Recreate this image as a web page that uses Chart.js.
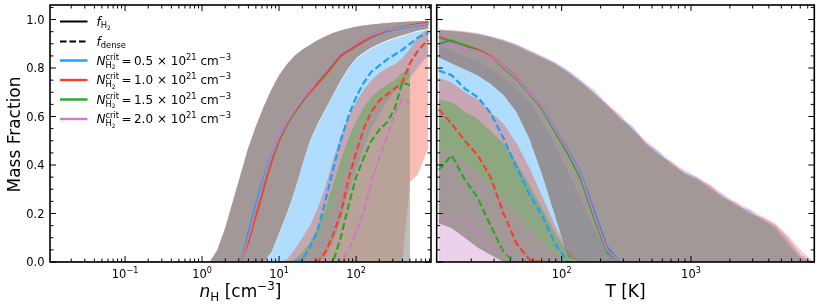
<!DOCTYPE html>
<html><head><meta charset="utf-8">
<script src="https://cdn.jsdelivr.net/npm/chart.js@4/dist/chart.umd.min.js"></script>
<style>
html,body{margin:0;padding:0;background:#fff;width:822px;height:308px;overflow:hidden}
canvas{position:absolute;top:0}
#c1{left:0}
#c2{left:434px}
</style></head><body>
<canvas id="c1" width="434" height="308"></canvas>
<canvas id="c2" width="388" height="308"></canvas>
<script>
// ---------------- DATA: left panel (x = n_H [cm^-3]) ----------------
const nH = [0.0107, 1.0, 1.26, 1.58, 2.0, 2.51, 3.16, 3.98, 5.01, 6.31, 7.94, 10.0, 12.6, 15.8, 20.0, 25.1, 31.6, 39.8, 50.1, 63.1, 79.4, 100, 126, 158, 200, 251, 316, 398, 501, 631, 794, 870];
const nH_h2Hi = [0,0,0,0.05,0.14,0.25,0.36,0.47,0.56,0.64,0.71,0.77,0.815,0.85,0.875,0.895,0.915,0.93,0.945,0.955,0.963,0.97,0.975,0.98,0.983,0.986,0.988,0.99,0.992,0.993,0.994,0.995];
const nH_h2Lo = [0,0,0,0,0,0,0,0,0,0,0.04,0.12,0.2,0.29,0.40,0.50,0.57,0.63,0.69,0.75,0.80,0.84,0.865,0.885,0.90,0.915,0.925,0.935,0.945,0.955,0.96,0.962];
const nH_h2Blue  = [0,0,0,0,0,0,0,0.12,0.24,0.35,0.44,0.515,0.575,0.62,0.665,0.705,0.74,0.775,0.81,0.85,0.87,0.89,0.91,0.925,0.94,0.95,0.958,0.965,0.97,0.975,0.98,0.982];
const nH_h2Red   = [0,0,0,0,0,0,0,0.08,0.19,0.30,0.41,0.50,0.565,0.615,0.66,0.70,0.735,0.77,0.81,0.85,0.87,0.89,0.91,0.928,0.943,0.955,0.963,0.97,0.976,0.982,0.987,0.99];
const nH_h2Green = [0,0,0,0,0,0,0,0.10,0.22,0.33,0.43,0.51,0.57,0.62,0.665,0.71,0.745,0.78,0.82,0.86,0.88,0.90,0.92,0.935,0.948,0.958,0.964,0.97,0.975,0.98,0.984,0.986];
const nH_h2Pink  = [0,0,0,0,0,0,0,0.10,0.22,0.335,0.435,0.515,0.575,0.625,0.67,0.71,0.75,0.785,0.825,0.862,0.882,0.902,0.92,0.935,0.948,0.957,0.963,0.968,0.973,0.978,0.982,0.984];
const nH_dBlue  = [0,0,0,0,0,0,0,0,0,0,0,0,0,0,0.01,0.06,0.13,0.25,0.38,0.50,0.60,0.68,0.74,0.785,0.81,0.835,0.855,0.875,0.90,0.925,0.94,0.945];
const nH_dRed   = [0,0,0,0,0,0,0,0,0,0,0,0,0,0,0,0,0,0.04,0.11,0.20,0.34,0.45,0.55,0.62,0.665,0.69,0.715,0.74,0.82,0.87,0.905,0.915];
const nH_dGreen = [0,0,0,0,0,0,0,0,0,0,0,0,0,0,0,0,0,0,0,0.1,0.23,0.35,0.43,0.50,0.545,0.575,0.63,0.74,0.73,null,null,null];
const nH_dPink  = [0,0,0,0,0,0,0,0,0,0,0,0,0,0,0,0,0,0,0,0,0.05,0.12,0.21,0.33,0.43,0.515,0.61,0.67,0.655,null,null,null];
const nH_dBlueHi  = [0,0,0,0,0,0,0,0,0,0,0.036,0.116,0.196,0.286,0.396,0.496,0.566,0.626,0.686,0.746,0.796,0.836,0.861,0.881,0.896,0.911,0.921,0.931,0.941,0.951,0.956,0.958];
const nH_dBlueLo  = [0,0,0,0,0,0,0,0,0,0,0,0,0,0,0,0,0,0.02,0.08,0.17,0.28,0.38,0.47,0.55,0.61,0.66,0.70,0.73,0.76,0.80,0.84,0.85];
const nH_dRedHi   = [0,0,0,0,0,0,0,0,0,0,0,0,0.01,0.05,0.10,0.15,0.22,0.31,0.42,0.52,0.60,0.66,0.71,0.75,0.78,0.80,0.815,0.84,0.88,0.93,0.955,0.96];
const nH_dRedLo   = [0,0,0,0,0,0,0,0,0,0,0,0,0,0,0,0,0,0,0,0,0,0,0,0,0,0,0,0,0.33,0.36,0.44,0.47];
const nH_dGreenHi = [0,0,0,0,0,0,0,0,0,0,0,0,0,0.01,0.04,0.08,0.14,0.22,0.32,0.42,0.51,0.58,0.64,0.68,0.71,0.73,0.75,0.78,0.80,null,null,null];
const nH_dGreenLo = [0,0,0,0,0,0,0,0,0,0,0,0,0,0,0,0,0,0,0,0,0,0,0,0,0,0,0,0,0,null,null,null];
const nH_dPinkHi  = [0,0,0,0,0,0,0,0,0,0,0,0,0,0.01,0.03,0.06,0.10,0.16,0.24,0.33,0.42,0.50,0.57,0.62,0.66,0.69,0.72,0.74,0.75,null,null,null];
const nH_dPinkLo  = [0,0,0,0,0,0,0,0,0,0,0,0,0,0,0,0,0,0,0,0,0,0,0,0,0,0,0,0,0,null,null,null];

// ---------------- DATA: right panel (x = T [K]) ----------------
const T = [11.2, 14.1, 17.8, 22.4, 28.2, 35.5, 44.7, 56.2, 70.8, 89.1, 112, 141, 178, 224, 282, 355, 447, 562, 708, 891, 1122, 1413, 1778, 2239, 2818, 3548, 4467, 5623, 7079, 8913];
const T_h2HiBlue  = [0.955,0.953,0.948,0.94,0.93,0.915,0.897,0.872,0.848,0.822,0.79,0.748,0.70,0.652,0.595,0.56,0.49,0.455,0.40,0.37,0.35,0.305,0.275,0.23,0.215,0.175,0.14,0.07,0.01,0];
const T_h2HiRed   = [0.96,0.955,0.95,0.942,0.928,0.913,0.893,0.868,0.843,0.818,0.783,0.74,0.695,0.648,0.60,0.545,0.495,0.44,0.415,0.365,0.34,0.315,0.265,0.245,0.20,0.185,0.155,0.10,0.03,0];
const T_h2HiGreen = [0.955,0.952,0.946,0.937,0.926,0.91,0.89,0.865,0.84,0.815,0.78,0.74,0.695,0.645,0.59,0.545,0.485,0.445,0.405,0.365,0.34,0.30,0.265,0.235,0.205,0.175,0.145,0.085,0.02,0];
const T_h2HiPink  = [0.958,0.957,0.952,0.943,0.932,0.918,0.898,0.874,0.85,0.824,0.79,0.75,0.71,0.655,0.61,0.55,0.50,0.46,0.41,0.38,0.35,0.32,0.28,0.245,0.22,0.19,0.16,0.11,0.05,0];
const T_h2Lo = [0.845,0.82,0.795,0.77,0.735,0.69,0.62,0.51,0.36,0.19,0.02,0,0,0,0,0,0,0,0,0,0,0,0,0,0,0,0,0,0,0];
const T_h2Blue  = [0.925,0.908,0.893,0.873,0.848,0.805,0.76,0.702,0.64,0.55,0.465,0.365,0.215,0.065,0,0,0,0,0,0,0,0,0,0,0,0,0,0,0,0];
const T_h2Red   = [0.93,0.91,0.895,0.877,0.85,0.808,0.762,0.70,0.637,0.545,0.46,0.355,0.20,0.055,0,0,0,0,0,0,0,0,0,0,0,0,0,0,0,0];
const T_h2Green = [0.90,0.915,0.893,0.873,0.846,0.80,0.755,0.695,0.63,0.535,0.445,0.34,0.18,0.04,0,0,0,0,0,0,0,0,0,0,0,0,0,0,0,0];
const T_h2Pink  = [0.888,0.89,0.882,0.87,0.845,0.805,0.76,0.70,0.638,0.545,0.458,0.355,0.195,0.05,0,0,0,0,0,0,0,0,0,0,0,0,0,0,0,0];
const T_dBlue  = [0.79,0.77,0.715,0.68,0.615,0.51,0.393,0.28,0.19,0.075,0,0,0,0,0,0,0,0,0,0,0,0,0,0,0,0,0,0,0,0];
const T_dRed   = [0.63,0.57,0.50,0.44,0.35,0.20,0.077,0.01,0,0,0,0,0,0,0,0,0,0,0,0,0,0,0,0,0,0,0,0,0,0];
const T_dGreen = [0.38,0.44,0.34,0.265,0.15,0.04,0,0,0,0,0,0,0,0,0,0,0,0,0,0,0,0,0,0,0,0,0,0,0,0];
const T_dPink  = [0.17,0.18,0.18,0.11,0.05,0.05,0,0,0,0,0,0,0,0,0,0,0,0,0,0,0,0,0,0,0,0,0,0,0,0];
const T_dBlueHi  = [0.895,0.87,0.85,0.83,0.80,0.76,0.715,0.665,0.58,0.48,0.37,0.26,0.14,0.04,0,0,0,0,0,0,0,0,0,0,0,0,0,0,0,0];
const T_dBlueLo  = [0.16,0.14,0.10,0.06,0.03,0,0,0,0,0,0,0,0,0,0,0,0,0,0,0,0,0,0,0,0,0,0,0,0,0];
const T_dRedHi   = [0.76,0.74,0.70,0.67,0.62,0.57,0.49,0.39,0.27,0.15,0.05,0,0,0,0,0,0,0,0,0,0,0,0,0,0,0,0,0,0,0];
const T_dRedLo   = [0.16,0.14,0.10,0.06,0.03,0,0,0,0,0,0,0,0,0,0,0,0,0,0,0,0,0,0,0,0,0,0,0,0,0];
const T_dGreenHi = [0.67,0.66,0.62,0.59,0.54,0.49,0.41,0.32,0.22,0.12,0.04,0,0,0,0,0,0,0,0,0,0,0,0,0,0,0,0,0,0,0];
const T_dGreenLo = [0.16,0.14,0.10,0.06,0.03,0,0,0,0,0,0,0,0,0,0,0,0,0,0,0,0,0,0,0,0,0,0,0,0,0];
const T_dPinkHi  = [0.46,0.45,0.41,0.37,0.31,0.26,0.20,0.14,0.08,0.03,0,0,0,0,0,0,0,0,0,0,0,0,0,0,0,0,0,0,0,0];
const T_dPinkLo  = [0,0,0,0,0,0,0,0,0,0,0,0,0,0,0,0,0,0,0,0,0,0,0,0,0,0,0,0,0,0];

// ---------------- ticks / labels ----------------
const yTicks = [0, 0.2, 0.4, 0.6, 0.8, 1.0];
const yTickLabels = ['0.0', '0.2', '0.4', '0.6', '0.8', '1.0'];
const nHTicks = [0.1, 1, 10, 100];
const nHTickExp = ['\u22121', '0', '1', '2'];
const TTicks = [100, 1000];
const TTickExp = ['2', '3'];
const legendCrit = ['0.5', '1.0', '1.5', '2.0'];

// ---------------- styles ----------------
const COLORS = [[28,158,250],[242,66,42],[34,172,34],[204,122,196]];
const ALPHA = 0.35;
const FONT = '"DejaVu Sans", sans-serif';
const rgba = (c,a) => `rgba(${c[0]},${c[1]},${c[2]},${a})`;

// rich text helpers (mathtext-like)
function fontOf(s, size){ return `${s.it?'italic ':''}${(size*(s.sc||1)).toFixed(2)}px ${FONT}`; }
function measureRich(ctx, segs, size){
  let w = 0;
  for (const s of segs){
    if (s.stack){ w += Math.max(...s.stack.map(ss => measureRich(ctx, ss, size))); }
    else { ctx.font = fontOf(s, size); w += ctx.measureText(s.t).width + (s.pad||0)*size; }
  }
  return w;
}
function drawRich(ctx, segs, x, y, size){
  for (const s of segs){
    if (s.stack){
      const ws = s.stack.map(ss => measureRich(ctx, ss, size));
      s.stack.forEach(ss => drawRich(ctx, ss, x, y, size));
      x += Math.max(...ws);
    } else {
      ctx.font = fontOf(s, size);
      ctx.fillText(s.t, x, y + (s.dy||0)*size);
      x += ctx.measureText(s.t).width + (s.pad||0)*size;
    }
  }
  return x;
}

function pts(xs, ys){ return xs.map((x,i) => ({x: x, y: ys[i]})); }

function buildDatasets(xs, groups){
  const ds = []; let ord = 1000;
  groups.forEach((g, k) => {
    const c = COLORS[k];
    ds.push({data: pts(xs, g.h2Lo), borderWidth: 0, pointRadius: 0, fill: false, order: ord--});
    ds.push({data: pts(xs, g.h2Hi), borderWidth: 0, pointRadius: 0, fill: '-1', backgroundColor: rgba(c, ALPHA), order: ord--});
    ds.push({data: pts(xs, g.dLo), borderWidth: 0, pointRadius: 0, fill: false, order: ord--});
    ds.push({data: pts(xs, g.dHi), borderWidth: 0, pointRadius: 0, fill: '-1', backgroundColor: rgba(c, ALPHA), order: ord--});
  });
  groups.forEach((g, k) => {
    const c = COLORS[k];
    ds.push({data: pts(xs, g.dMed), borderColor: rgba(c, 1), borderWidth: 2.2, borderDash: [7, 3.2], pointRadius: 0, fill: false, order: ord--});
  });
  groups.forEach((g, k) => {
    const c = COLORS[k];
    ds.push({data: pts(xs, g.h2Med), borderColor: rgba(c, 1), borderWidth: 1.8, pointRadius: 0, fill: false, order: ord--});
  });
  return ds;
}

function axesPlugin(o){
  return {
    id: 'axesDraw',
    afterDraw(chart){
      const {ctx, chartArea: a} = chart;
      const xs = chart.scales.x, ys = chart.scales.y;
      ctx.save();
      ctx.strokeStyle = '#000'; ctx.fillStyle = '#000'; ctx.lineWidth = 1;
      const seg = (x1,y1,x2,y2) => { ctx.beginPath(); ctx.moveTo(x1,y1); ctx.lineTo(x2,y2); ctx.stroke(); };
      // y ticks
      for (let i = 0; i <= 21; i++){
        const v = i * 0.05; if (v > ys.max) break;
        const major = (i % 4 === 0);
        const L = major ? 6 : 3.5;
        const p = ys.getPixelForValue(v);
        seg(a.left, p, a.left + L, p); seg(a.right, p, a.right - L, p);
      }
      // x ticks (log)
      const lmin = Math.floor(Math.log10(xs.min)), lmax = Math.ceil(Math.log10(xs.max));
      for (let d = lmin; d <= lmax; d++){
        for (let k = 1; k <= 9; k++){
          const v = k * Math.pow(10, d);
          if (v < xs.min || v > xs.max) continue;
          const p = xs.getPixelForValue(v);
          const L = (k === 1) ? 6 : 3.5;
          seg(p, a.bottom, p, a.bottom - L); seg(p, a.top, p, a.top + L);
        }
      }
      // frame
      ctx.lineWidth = 1.6;
      ctx.strokeRect(a.left, a.top, a.right - a.left, a.bottom - a.top);
      ctx.textBaseline = 'alphabetic';
      // y tick labels
      if (o.yLabels){
        ctx.font = `11.5px ${FONT}`; ctx.textAlign = 'right';
        yTicks.forEach((v, i) => ctx.fillText(yTickLabels[i], a.left - 5.5, ys.getPixelForValue(v) + 4.2));
        ctx.save();
        ctx.translate(19.5, (a.top + a.bottom) / 2 + 1);
        ctx.rotate(-Math.PI / 2);
        ctx.textAlign = 'center'; ctx.font = `17px ${FONT}`;
        ctx.fillText('Mass Fraction', 0, 0);
        ctx.restore();
      }
      ctx.textAlign = 'left';
      // x tick labels
      o.xTicks.forEach((v, i) => {
        const segs = [{t: '10'}, {t: o.xExp[i], sc: 0.7, dy: -0.36}];
        const w = measureRich(ctx, segs, 11.5);
        drawRich(ctx, segs, xs.getPixelForValue(v) - w / 2, a.bottom + 15.5, 11.5);
      });
      // x title
      const tw = measureRich(ctx, o.xTitle, 17);
      drawRich(ctx, o.xTitle, (a.left + a.right) / 2 - tw / 2, 297, 17);
      // legend
      if (o.legend){
        const rows = [21.5, 41.5, 60.5, 80, 99.5, 119];
        const x0 = 60, x1 = 87.5, tx = 96.5, fs = 12;
        ctx.lineWidth = 2; ctx.strokeStyle = '#000';
        ctx.setLineDash([]); seg(x0, rows[0], x1, rows[0]);
        ctx.setLineDash([6.5, 3]); seg(x0, rows[1], x1, rows[1]);
        ctx.setLineDash([]);
        drawRich(ctx, [{t: 'f', it: true}, {t: 'H', sc: 0.7, dy: 0.2}, {t: '2', sc: 0.5, dy: 0.34}], tx, rows[0] + 4, fs);
        drawRich(ctx, [{t: 'f', it: true}, {t: 'dense', sc: 0.7, dy: 0.2}], tx, rows[1] + 4, fs);
        ctx.lineWidth = 2.4;
        legendCrit.forEach((c, k) => {
          const yy = rows[2 + k];
          ctx.strokeStyle = rgba(COLORS[k], 1);
          seg(x0, yy, x1, yy);
          const segs = [
            {t: 'N', it: true},
            {stack: [[{t: 'crit', sc: 0.7, dy: -0.4}], [{t: 'H', sc: 0.7, dy: 0.26}, {t: '2', sc: 0.5, dy: 0.4}]]},
            {t: '\u2009=\u2009' + c + ' \u00d7 10'}, {t: '21', sc: 0.7, dy: -0.4},
            {t: ' cm'}, {t: '\u22123', sc: 0.7, dy: -0.4}
          ];
          drawRich(ctx, segs, tx, yy + 4, fs);
        });
      }
      ctx.restore();
    }
  };
}

function makeChart(id, xs, groups, xmin, xmax, pad, axOpts){
  return new Chart(document.getElementById(id), {
    type: 'line',
    data: {datasets: buildDatasets(xs, groups)},
    options: {
      responsive: false, animation: false, devicePixelRatio: 1, events: [],
      layout: {padding: pad},
      plugins: {legend: {display: false}, tooltip: {enabled: false}, filler: {propagate: false}},
      elements: {line: {tension: 0}, point: {radius: 0}},
      scales: {
        x: {type: 'logarithmic', min: xmin, max: xmax, display: false},
        y: {type: 'linear', min: 0, max: 1.06, display: false}
      }
    },
    plugins: [axesPlugin(axOpts)]
  });
}

const leftGroups = [
  {h2Lo: nH_h2Lo, h2Hi: nH_h2Hi, dLo: nH_dBlueLo,  dHi: nH_dBlueHi,  h2Med: nH_h2Blue,  dMed: nH_dBlue},
  {h2Lo: nH_h2Lo, h2Hi: nH_h2Hi, dLo: nH_dRedLo,   dHi: nH_dRedHi,   h2Med: nH_h2Red,   dMed: nH_dRed},
  {h2Lo: nH_h2Lo, h2Hi: nH_h2Hi, dLo: nH_dGreenLo, dHi: nH_dGreenHi, h2Med: nH_h2Green, dMed: nH_dGreen},
  {h2Lo: nH_h2Lo, h2Hi: nH_h2Hi, dLo: nH_dPinkLo,  dHi: nH_dPinkHi,  h2Med: nH_h2Pink,  dMed: nH_dPink}
];
const rightGroups = [
  {h2Lo: T_h2Lo, h2Hi: T_h2HiBlue,  dLo: T_dBlueLo,  dHi: T_dBlueHi,  h2Med: T_h2Blue,  dMed: T_dBlue},
  {h2Lo: T_h2Lo, h2Hi: T_h2HiRed,   dLo: T_dRedLo,   dHi: T_dRedHi,   h2Med: T_h2Red,   dMed: T_dRed},
  {h2Lo: T_h2Lo, h2Hi: T_h2HiGreen, dLo: T_dGreenLo, dHi: T_dGreenHi, h2Med: T_h2Green, dMed: T_dGreen},
  {h2Lo: T_h2Lo, h2Hi: T_h2HiPink,  dLo: T_dPinkLo,  dHi: T_dPinkHi,  h2Med: T_h2Pink,  dMed: T_dPink}
];

makeChart('c1', nH, leftGroups, 0.0106, 940, {left: 50, right: 3, top: 5, bottom: 46}, {
  yLabels: true, legend: true, xTicks: nHTicks, xExp: nHTickExp,
  xTitle: [{t: 'n', it: true}, {t: 'H', sc: 0.7, dy: 0.22}, {t: ' [cm'}, {t: '\u22123', sc: 0.7, dy: -0.42}, {t: ']'}]
});
makeChart('c2', T, rightGroups, 10.8, 8990, {left: 2.7, right: 7.7, top: 5, bottom: 46}, {
  yLabels: false, legend: false, xTicks: TTicks, xExp: TTickExp,
  xTitle: [{t: 'T [K]'}]
});
</script>
</body></html>
